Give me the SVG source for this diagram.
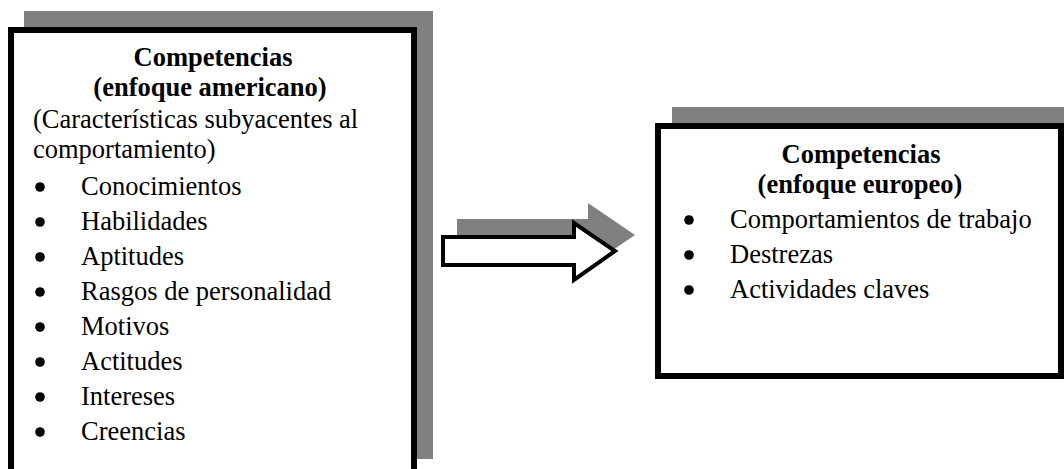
<svg xmlns="http://www.w3.org/2000/svg" width="1064" height="469" viewBox="0 0 1064 469">
  <style>
    .shadow { fill: #808080; stroke: none; }
    .frame { fill: #ffffff; stroke: #000000; stroke-width: 6; }
    text { font-family: "Liberation Serif", "Times New Roman", serif; font-size: 26.5px; fill: #000000; }
    .title { font-weight: bold; text-anchor: middle; }
    .dot { fill: #000000; }
  </style>
  <rect width="1064" height="469" fill="#ffffff"/>

  <!-- American approach -->
  <g id="node-americano">
    <rect class="shadow" x="24" y="11" width="409" height="448"/>
    <rect class="frame" x="11" y="30" width="403" height="460"/>
    <text class="title" x="213" y="66">Competencias</text>
    <text class="title" x="210" y="96">(enfoque americano)</text>
    <text x="33" y="128">(Características subyacentes al</text>
    <text x="33" y="158">comportamiento)</text>
    <circle class="dot" cx="40" cy="187" r="4.8"/>
    <text x="81" y="195">Conocimientos</text>
    <circle class="dot" cx="40" cy="222" r="4.8"/>
    <text x="81" y="230">Habilidades</text>
    <circle class="dot" cx="40" cy="257" r="4.8"/>
    <text x="81" y="265">Aptitudes</text>
    <circle class="dot" cx="40" cy="292" r="4.8"/>
    <text x="81" y="300">Rasgos de personalidad</text>
    <circle class="dot" cx="40" cy="327" r="4.8"/>
    <text x="81" y="335">Motivos</text>
    <circle class="dot" cx="40" cy="362" r="4.8"/>
    <text x="81" y="370">Actitudes</text>
    <circle class="dot" cx="40" cy="397" r="4.8"/>
    <text x="81" y="405">Intereses</text>
    <circle class="dot" cx="40" cy="432" r="4.8"/>
    <text x="81" y="440">Creencias</text>
  </g>

  <!-- Block arrow between the two approaches -->
  <g id="connectors">
    <polygon class="shadow" points="457,219 588,219 588,203 635,235 588,267 588,251 457,251"/>
    <polygon points="443,237 574,237 574,223 615,251 574,280 574,265 443,265" fill="#ffffff" stroke="#000000" stroke-width="4" stroke-linejoin="miter"/>
  </g>

  <!-- European approach -->
  <g id="node-europeo">
    <rect class="shadow" x="672" y="107" width="400" height="256"/>
    <rect class="frame" x="658" y="126" width="403" height="250"/>
    <text class="title" x="861" y="163">Competencias</text>
    <text class="title" x="860" y="193">(enfoque europeo)</text>
    <circle class="dot" cx="689" cy="220" r="4.8"/>
    <text x="730" y="228">Comportamientos de trabajo</text>
    <circle class="dot" cx="689" cy="255" r="4.8"/>
    <text x="730" y="263">Destrezas</text>
    <circle class="dot" cx="689" cy="290" r="4.8"/>
    <text x="730" y="298">Actividades claves</text>
  </g>
</svg>
